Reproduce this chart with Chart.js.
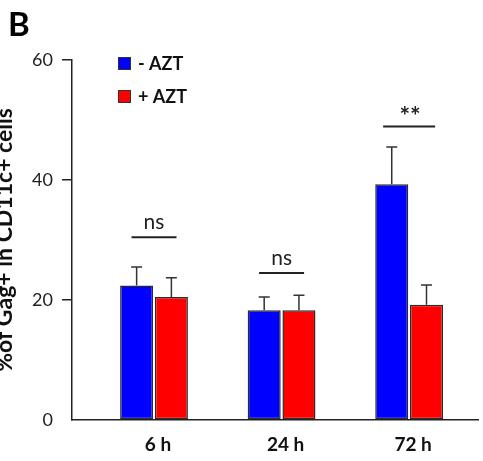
<!DOCTYPE html>
<html>
<head>
<meta charset="utf-8">
<script src="https://cdn.jsdelivr.net/npm/chart.js@4/dist/chart.umd.min.js"></script>
<style>
html,body{margin:0;padding:0;background:#fff;}
#wrap{width:483px;height:461px;position:relative;}
</style>
</head>
<body>
<div id="wrap"><canvas id="c" width="483" height="461"></canvas></div>
<script>
const categories = ['6 h', '24 h', '72 h'];
const seriesNames = ['- AZT', '+ AZT'];
const minusAZT = [22.4, 18.3, 39.3];
const minusAZTErr = [3.1, 2.2, 6.2];
const plusAZT = [20.5, 18.3, 19.2];
const plusAZTErr = [3.2, 2.5, 3.3];
const sigLabels = ['ns', 'ns', '**'];
const sigLevels = [30.45, 24.5, 48.9];
const yTicks = [0, 20, 40, 60];

const FONT = 'Lato, "Open Sans", sans-serif';
const INK = '#222';

const errors = [minusAZTErr, plusAZTErr];

const errorBarPlugin = {
  id: 'errorBars',
  afterDatasetsDraw(chart) {
    const ctx = chart.ctx;
    const y = chart.scales.y;
    ctx.save();
    ctx.strokeStyle = '#333';
    ctx.lineWidth = 1.5;
    chart.data.datasets.forEach((ds, di) => {
      const meta = chart.getDatasetMeta(di);
      meta.data.forEach((el, i) => {
        const v = ds.data[i].y;
        const top = y.getPixelForValue(v + errors[di][i]);
        ctx.beginPath();
        ctx.moveTo(el.x, el.y);
        ctx.lineTo(el.x, top);
        ctx.moveTo(el.x - 5.5, top);
        ctx.lineTo(el.x + 5.5, top);
        ctx.stroke();
      });
    });
    ctx.restore();
  }
};

const sigPlugin = {
  id: 'sig',
  afterDatasetsDraw(chart) {
    const ctx = chart.ctx;
    const y = chart.scales.y;
    ctx.save();
    sigLabels.forEach((lab, i) => {
      const m0 = chart.getDatasetMeta(0).data[i];
      const m1 = chart.getDatasetMeta(1).data[i];
      const cx = (m0.x + m1.x) / 2;
      const py = y.getPixelForValue(sigLevels[i]);
      const half = lab === '**' ? 26 : 22.5;
      ctx.strokeStyle = INK;
      ctx.lineWidth = 2;
      ctx.beginPath();
      ctx.moveTo(cx - half, py);
      ctx.lineTo(cx + half, py);
      ctx.stroke();
      ctx.fillStyle = INK;
      ctx.textAlign = 'center';
      ctx.textBaseline = 'alphabetic';
      if (lab === '**') {
        ctx.font = 'bold 25px ' + FONT;
        ctx.fillText(lab, cx + 1, py - 2);
      } else {
        ctx.font = '21px ' + FONT;
        ctx.fillText(lab, cx, py - 8);
      }
    });
    ctx.restore();
  }
};

const legendPlugin = {
  id: 'customLegend',
  afterDraw(chart) {
    const ctx = chart.ctx;
    ctx.save();
    chart.data.datasets.forEach((ds, i) => {
      const bx = 118, by = 57 + i * 33;
      ctx.fillStyle = ds.backgroundColor;
      ctx.fillRect(bx, by, 13, 13);
      ctx.strokeStyle = '#333';
      ctx.lineWidth = 1;
      ctx.strokeRect(bx + 0.5, by + 0.5, 12, 12);
      ctx.fillStyle = '#111';
      ctx.font = 'bold 18px ' + FONT;
      ctx.textAlign = 'left';
      ctx.textBaseline = 'middle';
      ctx.fillText(ds.label, 138, by + 7);
    });
    ctx.restore();
  }
};

new Chart(document.getElementById('c'), {
  type: 'bar',
  data: {
    datasets: [
      {
        label: seriesNames[0],
        data: minusAZT.map((v, i) => ({x: i, y: v})),
        backgroundColor: '#0000FF',
        borderColor: '#2a2a2a',
        borderWidth: 1.5,
        borderSkipped: false
      },
      {
        label: seriesNames[1],
        data: plusAZT.map((v, i) => ({x: i, y: v})),
        backgroundColor: '#FF0000',
        borderColor: '#2a2a2a',
        borderWidth: 1.5,
        borderSkipped: false
      }
    ]
  },
  options: {
    responsive: false,
    animation: false,
    devicePixelRatio: 1,
    categoryPercentage: 0.545,
    barPercentage: 0.95,
    layout: { padding: { left: 8, right: 5, top: 0, bottom: 0 } },
    plugins: {
      legend: { display: false },
      tooltip: { enabled: false },
      title: {
        display: true,
        text: 'B',
        align: 'start',
        color: '#000',
        font: { family: FONT, size: 33, weight: 'bold', lineHeight: 1 },
        padding: { top: 9, bottom: 18 }
      }
    },
    scales: {
      x: {
        type: 'linear',
        offset: false,
        min: -0.643,
        max: 2.54,
        afterBuildTicks(scale) { scale.ticks = categories.map((c, i) => ({value: i})); },
        afterFit(scale) { scale.height = 41; },
        grid: { display: false, drawTicks: false, offset: false },
        border: { display: true, color: INK, width: 1.5 },
        ticks: {
          color: '#111',
          padding: 13,
          labelOffset: 4,
          maxRotation: 0,
          autoSkip: false,
          font: { family: FONT, size: 19, weight: 'bold' },
          callback: (v) => categories[v]
        }
      },
      y: {
        min: 0,
        max: 60,
        afterBuildTicks(scale) { scale.ticks = yTicks.map(v => ({value: v})); },
        afterFit(scale) { scale.width = 64; },
        grid: {
          drawOnChartArea: false,
          tickLength: 10,
          lineWidth: 1.5,
          color: (c) => (c.tick && c.tick.value === 0) ? 'rgba(0,0,0,0)' : INK
        },
        border: { display: true, color: INK, width: 1.5 },
        ticks: {
          color: '#222',
          padding: 9,
          font: { family: FONT, size: 18 }
        },
        title: {
          display: true,
          text: '%of Gag+ in CD11c+ cells',
          color: '#111',
          padding: { top: -17, bottom: 0 },
          font: { family: FONT, size: 23, weight: 'bold', lineHeight: 1.2 }
        }
      }
    }
  },
  plugins: [errorBarPlugin, sigPlugin, legendPlugin]
});
</script>
</body>
</html>
